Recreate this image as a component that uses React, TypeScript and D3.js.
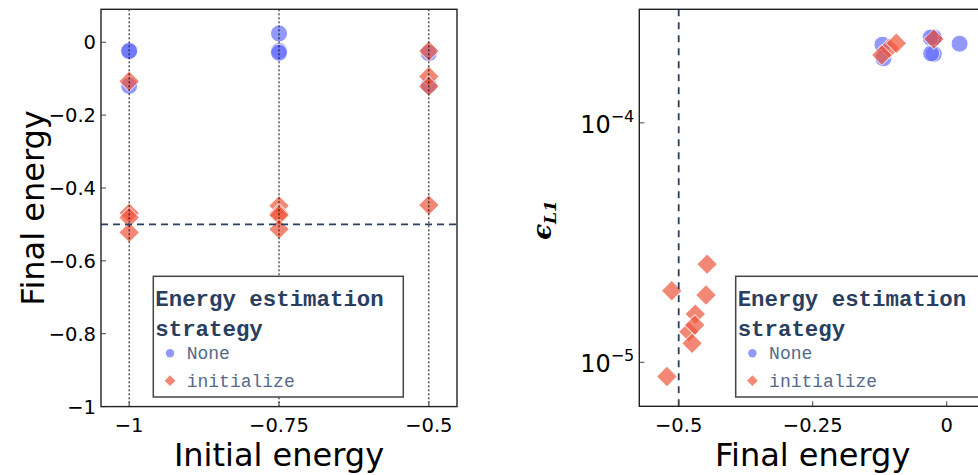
import React from "react";
import * as d3 from "d3";

// Runs of the two energy-estimation strategies: initial energy, final energy, L1 error
const noneInitial = [-1, -1, -1, -0.75, -0.75, -0.75, -0.5, -0.5];
const noneFinal = [-0.024, -0.024, -0.12, 0.024, -0.024, -0.029, -0.03, -0.118];
const noneError = [2.28e-4, 2.26e-4, 2.12e-4, 2.14e-4, 1.94e-4, 1.95e-4, 2.27e-4, 1.86e-4];

const initInitial = [-1, -1, -1, -1, -0.75, -0.75, -0.75, -0.75, -0.5, -0.5, -0.5, -0.5];
const initFinal = [-0.107, -0.469, -0.481, -0.522, -0.449, -0.47, -0.475, -0.513, -0.024, -0.094, -0.121, -0.447];
const initError = [2.05e-4, 1.59e-5, 1.34e-5, 8.72e-6, 1.91e-5, 1.43e-5, 1.2e-5, 1.99e-5, 2.24e-4, 2.15e-4, 1.92e-4, 2.57e-5];

const leftXTicks = [-1, -0.75, -0.5];
const leftXLabels = ["−1", "−0.75", "−0.5"];
const leftYTicks = [0, -0.2, -0.4, -0.6, -0.8, -1];
const leftYLabels = ["0", "−0.2", "−0.4", "−0.6", "−0.8", "−1"];
const rightXTicks = [-0.5, -0.25, 0];
const rightXLabels = ["−0.5", "−0.25", "0"];
const rightYTicks = [1e-4, 1e-5];
const rightYExponents = ["−4", "−5"];

const groundStateEnergy = -0.5;
const legendTitle = ["Energy estimation", "strategy"];
const legendNames = ["None", "initialize"];

const BLUE = "#636efa";
const RED = "#EF553B";
const NAVY = "#2a3f5f";
const SANS = "DejaVu Sans, Verdana, sans-serif";
const MONO = "Liberation Mono, Courier New, monospace";

const L = { left: 101, right: 457, top: 9.3, bottom: 406.6 };
const R = { left: 639.3, right: 986, top: 9.3, bottom: 406.3 };

const xL = d3.scaleLinear().domain([-1.047, -0.453]).range([L.left, L.right]);
const yL = d3.scaleLinear().domain([-1, 0.0904]).range([L.bottom, L.top]);
const xR = d3.scaleLinear().domain([-0.5735, 0.0733]).range([R.left, R.right]);
const yR = d3.scaleLog().domain([6.55e-6, 2.98e-4]).range([R.bottom, R.top]);

const diamond = d3.symbol(d3.symbolSquare, 216)() as string;
const diamondSmall = d3.symbol(d3.symbolSquare, 58)() as string;

function Legend({ left, top }: { left: number; top: number }) {
  return (
    <g>
      <rect x={left} y={top} width={250} height={120.7} fill="#fff" stroke="#444" strokeWidth={1.5} />
      <text x={left + 2} y={top + 29.2} fontFamily={MONO} fontWeight="bold" fontSize={22.4} fill={NAVY}>
        {legendTitle[0]}
      </text>
      <text x={left + 2} y={top + 59.6} fontFamily={MONO} fontWeight="bold" fontSize={22.4} fill={NAVY}>
        {legendTitle[1]}
      </text>
      <circle cx={left + 16.7} cy={top + 77} r={4.2} fill={BLUE} opacity={0.7} />
      <text x={left + 33.4} y={top + 83} fontFamily={MONO} fontSize={18} fill="#55698a">
        {legendNames[0]}
      </text>
      <path d={diamondSmall} transform={`translate(${left + 16.7},${top + 104.4}) rotate(45)`} fill={RED} opacity={0.7} />
      <text x={left + 33.4} y={top + 110.4} fontFamily={MONO} fontSize={18} fill="#55698a">
        {legendNames[1]}
      </text>
    </g>
  );
}

function Points({ px, py }: { px: (i: number, s: "n" | "i") => number; py: (i: number, s: "n" | "i") => number }) {
  return (
    <g>
      {noneFinal.map((_, i) => (
        <circle key={"n" + i} cx={px(i, "n")} cy={py(i, "n")} r={8.5} fill={BLUE} stroke="#fff" strokeWidth={1} opacity={0.7} />
      ))}
      {initFinal.map((_, i) => (
        <path
          key={"i" + i}
          d={diamond}
          transform={`translate(${px(i, "i")},${py(i, "i")}) rotate(45)`}
          fill={RED}
          stroke="#fff"
          strokeWidth={1}
          opacity={0.7}
        />
      ))}
    </g>
  );
}

export default function App() {
  return (
    <svg width={978} height={475} style={{ position: "absolute", left: 0, top: 0, background: "#fff" }}>
      <defs>
        <clipPath id="clipL">
          <rect x={L.left} y={L.top} width={L.right - L.left} height={L.bottom - L.top} />
        </clipPath>
        <clipPath id="clipR">
          <rect x={R.left} y={R.top} width={R.right - R.left} height={R.bottom - R.top} />
        </clipPath>
      </defs>

      {/* Left panel: final vs initial energy */}
      <g clipPath="url(#clipL)">
        <Points
          px={(i, s) => xL(s === "n" ? noneInitial[i] : initInitial[i])}
          py={(i, s) => yL(s === "n" ? noneFinal[i] : initFinal[i])}
        />
        {leftXTicks.map((t) => (
          <line key={t} x1={xL(t)} x2={xL(t)} y1={L.top} y2={L.bottom} stroke="#000" strokeWidth={1} strokeDasharray="2,2" />
        ))}
        <line x1={L.left} x2={L.right} y1={yL(groundStateEnergy)} y2={yL(groundStateEnergy)} stroke={NAVY} strokeWidth={1.8} strokeDasharray="7,5" />
      </g>
      {leftYTicks.map((t) => (
        <line key={t} x1={L.left} x2={L.left + 5} y1={yL(t)} y2={yL(t)} stroke="#444" strokeWidth={1} />
      ))}
      {leftXTicks.map((t) => (
        <line key={t} x1={xL(t)} x2={xL(t)} y1={L.bottom} y2={L.bottom - 5} stroke="#444" strokeWidth={1} />
      ))}
      <rect x={L.left} y={L.top} width={L.right - L.left} height={L.bottom - L.top} fill="none" stroke="#222" strokeWidth={1.4} />
      {leftYTicks.map((t, i) => (
        <text key={t} x={L.left - 5} y={yL(t) + 7} textAnchor="end" fontFamily={SANS} fontSize={19.5} fill="#000">
          {leftYLabels[i]}
        </text>
      ))}
      {leftXTicks.map((t, i) => (
        <text key={t} x={xL(t)} y={431.5} textAnchor="middle" fontFamily={SANS} fontSize={19.5} fill="#000">
          {leftXLabels[i]}
        </text>
      ))}
      <text x={(L.left + L.right) / 2} y={466} textAnchor="middle" fontFamily={SANS} fontSize={32} fill="#000">
        Initial energy
      </text>
      <text
        transform={`translate(44,${(L.top + L.bottom) / 2}) rotate(-90)`}
        textAnchor="middle"
        fontFamily={SANS}
        fontSize={32}
        fill="#000"
      >
        Final energy
      </text>
      <Legend left={153.3} top={276.3} />

      {/* Right panel: L1 error vs final energy */}
      <g clipPath="url(#clipR)">
        <Points
          px={(i, s) => xR(s === "n" ? noneFinal[i] : initFinal[i])}
          py={(i, s) => yR(s === "n" ? noneError[i] : initError[i])}
        />
        <line x1={xR(groundStateEnergy)} x2={xR(groundStateEnergy)} y1={R.top} y2={R.bottom} stroke={NAVY} strokeWidth={1.8} strokeDasharray="7,6" />
      </g>
      {rightYTicks.map((t) => (
        <line key={t} x1={R.left} x2={R.left + 5} y1={yR(t)} y2={yR(t)} stroke="#444" strokeWidth={1} />
      ))}
      {rightXTicks.map((t) => (
        <line key={t} x1={xR(t)} x2={xR(t)} y1={R.bottom} y2={R.bottom - 5} stroke="#444" strokeWidth={1} />
      ))}
      <rect x={R.left} y={R.top} width={R.right - R.left} height={R.bottom - R.top} fill="none" stroke="#222" strokeWidth={1.4} />
      {rightYTicks.map((t, i) => (
        <text key={t} x={R.left - 5} y={yR(t) + 9.7} textAnchor="end" fontFamily={SANS} fill="#000">
          <tspan fontSize={24}>10</tspan>
          <tspan fontSize={16} dy={-11}>{rightYExponents[i]}</tspan>
        </text>
      ))}
      {rightXTicks.map((t, i) => (
        <text key={t} x={xR(t)} y={431.5} textAnchor="middle" fontFamily={SANS} fontSize={19.5} fill="#000">
          {rightXLabels[i]}
        </text>
      ))}
      <text x={(R.left + R.right) / 2} y={466} textAnchor="middle" fontFamily={SANS} fontSize={32} fill="#000">
        Final energy
      </text>
      <text
        transform={`translate(551,220) rotate(-90)`}
        textAnchor="middle"
        fontFamily="DejaVu Serif, serif"
        fontStyle="italic"
        fontWeight="bold"
        fill="#000"
      >
        <tspan fontSize={26}>ϵ</tspan>
        <tspan fontSize={17} dy={5}>L1</tspan>
      </text>
      <Legend left={735.7} top={276.3} />
    </svg>
  );
}
